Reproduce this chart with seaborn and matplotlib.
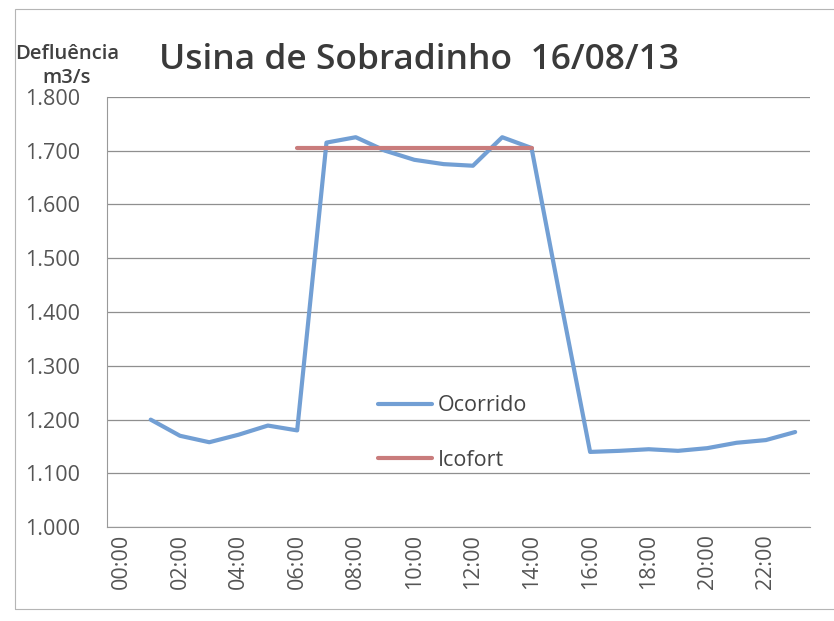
import numpy as np
import pandas as pd
import matplotlib
matplotlib.use("Agg")
import matplotlib.pyplot as plt
import matplotlib.ticker as mticker
import seaborn as sns

horas = [f"{h:02d}:00" for h in range(24)]
ocorrido = [np.nan, 1200, 1170, 1158, 1172, 1189, 1180, 1715, 1725, 1700, 1683,
            1675, 1672, 1725, 1705, 1420, 1140, 1142, 1145, 1142, 1147, 1157, 1162, 1177]
icofort = [np.nan] * 6 + [1705] * 9 + [np.nan] * 9
series_names = ["Ocorrido", "Icofort"]
titulo = "Usina de Sobradinho  16/08/13"
ylabel_txt = "Defluência\nm3/s"

sns.set_theme(style="white")
plt.rcParams['font.family'] = ['Open Sans', 'DejaVu Sans']

pos = np.arange(len(horas))
df = pd.concat([
    pd.DataFrame({"pos": pos, "valor": ocorrido, "serie": series_names[0]}),
    pd.DataFrame({"pos": pos, "valor": icofort, "serie": series_names[1]}),
]).dropna()

fig = plt.figure(figsize=(8.34, 6.21), dpi=100)
ax = fig.add_axes([0.128, 0.151, 0.843, 0.693])

palette = {"Ocorrido": "#729fd4", "Icofort": "#c97c7c"}
sns.lineplot(data=df, x="pos", y="valor", hue="serie", palette=palette,
             linewidth=3.0, ax=ax, estimator=None, sort=True)

ax.set_xlim(-0.5, len(horas) - 0.5)
ax.set_ylim(1000, 1800)
ax.set_yticks(np.arange(1000, 1801, 100))
ax.yaxis.set_major_formatter(mticker.FuncFormatter(lambda v, p: f"{int(v)//1000}.{int(v)%1000:03d}"))
ax.set_xticks(pos[::2])
ax.set_xticklabels(horas[::2], rotation=90)
ax.set_xticks(np.arange(-0.5, len(horas), 1), minor=True)
ax.tick_params(axis='x', which='major', length=0, pad=5, labelsize=15.5, colors='#555555')
ax.tick_params(axis='x', which='minor', length=6, width=0.8, color='#999999', direction='out')
ax.tick_params(axis='y', which='major', length=7, width=0.8, color='#999999', direction='out',
               labelsize=15.5, labelcolor='#555555', pad=12)
ax.grid(axis='y', color='#8f8f8f', linewidth=0.9)
ax.grid(axis='x', visible=False)
for s in ['top', 'right']:
    ax.spines[s].set_visible(False)
for s in ['left', 'bottom']:
    ax.spines[s].set_color('#999999')
    ax.spines[s].set_linewidth(0.8)
ax.set_xlabel("")
ax.set_ylabel("")

leg = ax.legend(loc='upper left', bbox_to_anchor=(359 / 834, 1 - 376 / 621),
                bbox_transform=fig.transFigure, frameon=False, fontsize=15.5,
                handlelength=2.5, handletextpad=0.25, labelspacing=1.55)
for t in leg.get_texts():
    t.set_color('#444444')
for l in leg.get_lines():
    l.set_linewidth(3.0)

fig.text(159 / 834, 1 - 60 / 621, titulo, fontsize=25.5, color='#3a3a3a', va='center', ha='left',
         fontweight='semibold')
fig.text(67 / 834, 1 - 66 / 621, ylabel_txt, fontsize=14.5, color='#404040', va='center',
         ha='center', fontweight='semibold', linespacing=1.25)

rect = plt.Rectangle((15 / 834, 0.02), 1.2, 0.965, transform=fig.transFigure, fill=False,
                     edgecolor='#b5b5b5', linewidth=0.8)
fig.patches.append(rect)

fig.savefig("out.png", dpi=100, facecolor='white')
